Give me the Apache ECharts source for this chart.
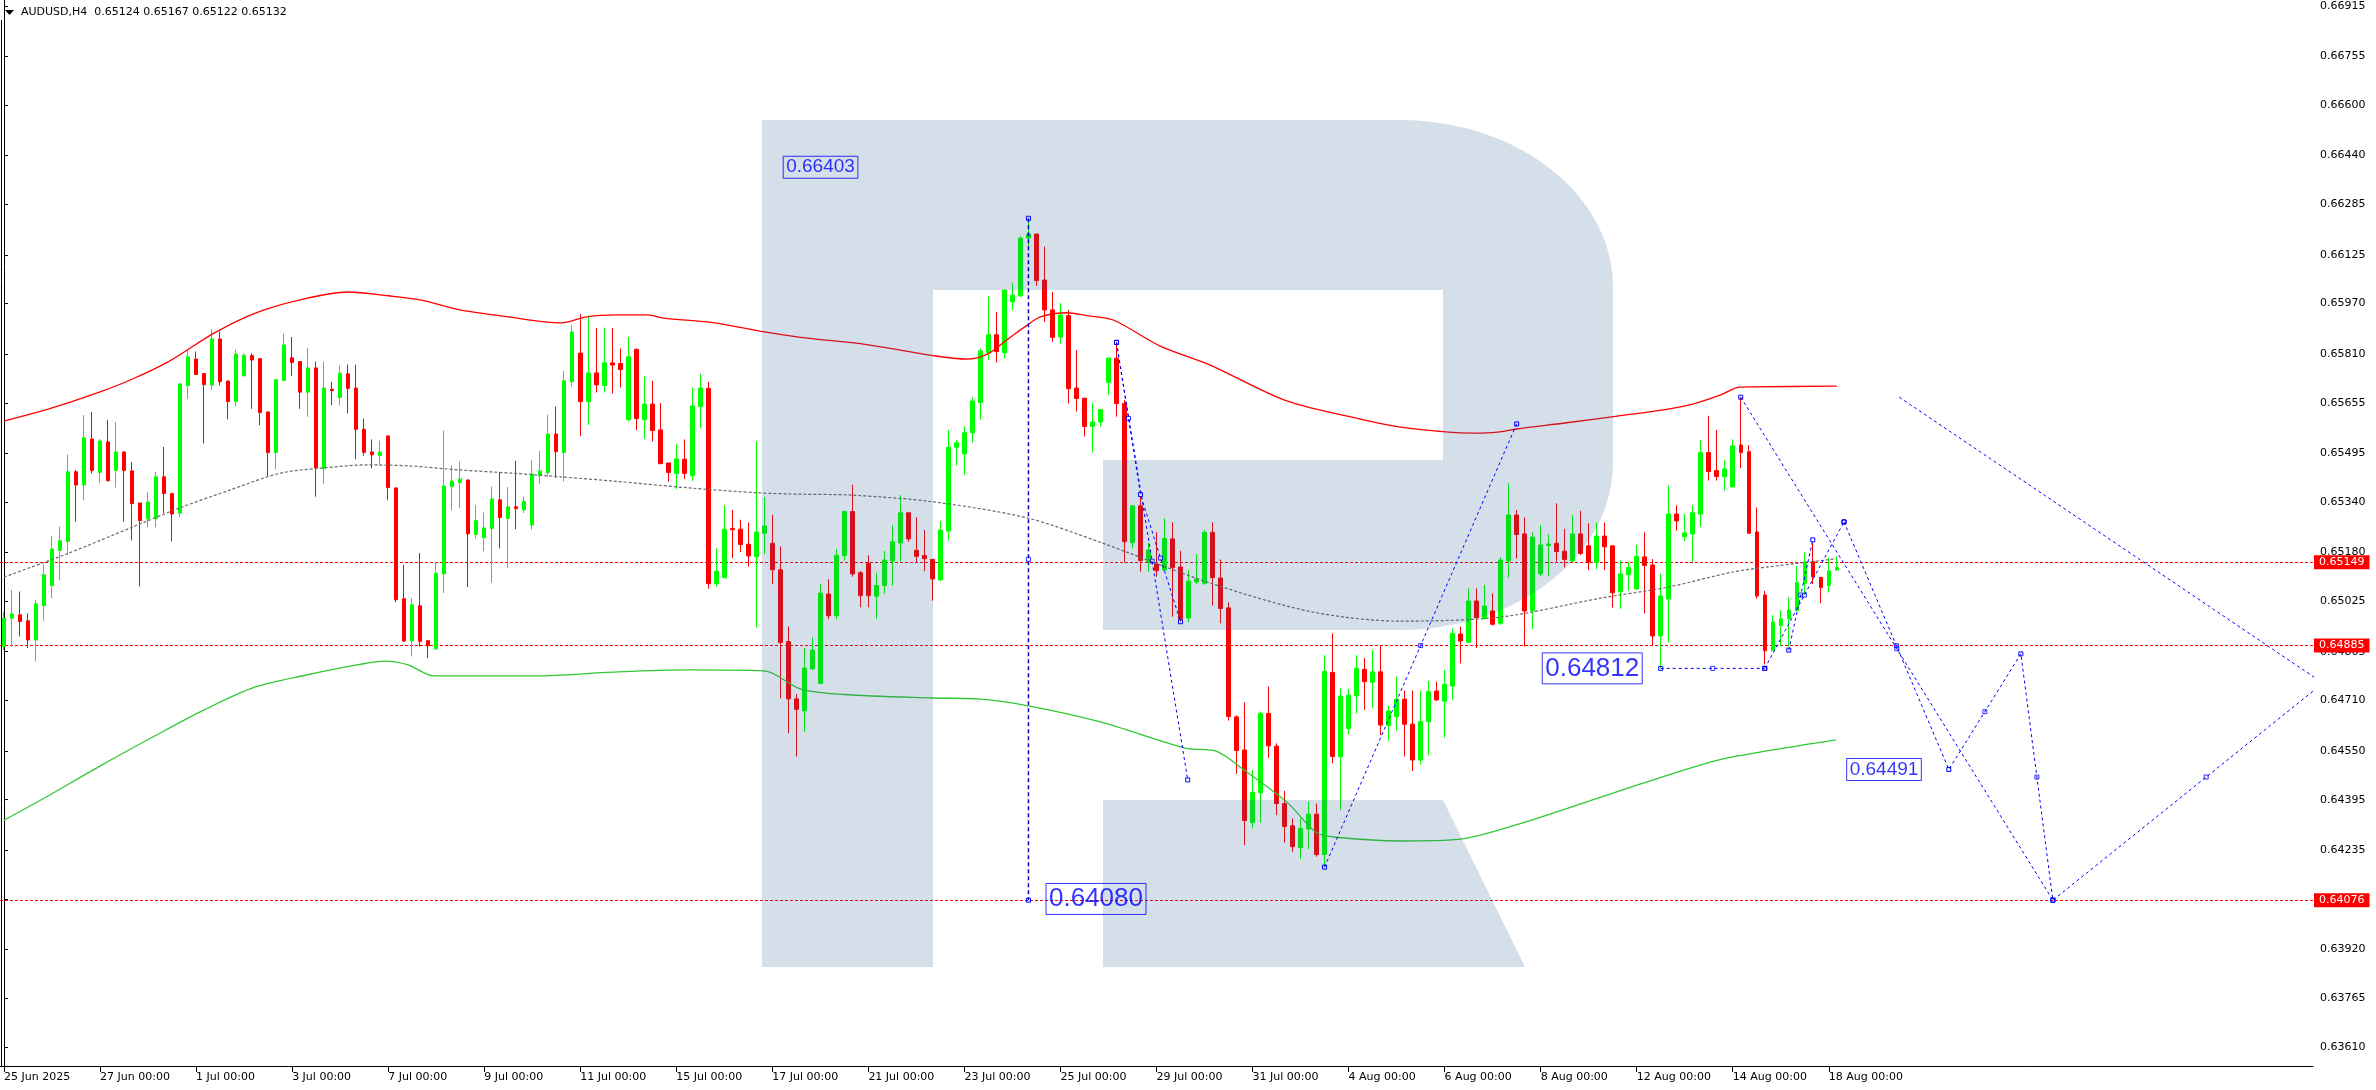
<!DOCTYPE html>
<html><head><meta charset="utf-8">
<script src="https://cdn.jsdelivr.net/npm/echarts@6/dist/echarts.min.js"></script>
<style>html,body{margin:0;padding:0;background:#fff}#c{width:2376px;height:1090px}</style>
</head><body><div id="c"></div>
<script>
// ---------------- DATA ----------------
const symbolName = 'AUDUSD,H4';
const dateLabels = ['25 Jun 2025','27 Jun 00:00','1 Jul 00:00','3 Jul 00:00','7 Jul 00:00','9 Jul 00:00','11 Jul 00:00','15 Jul 00:00','17 Jul 00:00','21 Jul 00:00','23 Jul 00:00','25 Jul 00:00','29 Jul 00:00','31 Jul 00:00','4 Aug 00:00','6 Aug 00:00','8 Aug 00:00','12 Aug 00:00','14 Aug 00:00','18 Aug 00:00'];
const yTickLabels = ['0.66915','0.66755','0.66600','0.66440','0.66285','0.66125','0.65970','0.65810','0.65655','0.65495','0.65340','0.65180','0.65025','0.64865','0.64710','0.64550','0.64395','0.64235','0.64080','0.63920','0.63765','0.63610'];

const opens = [
0.64881,0.64971,0.64982,0.64963,0.64902,0.65011,0.65075,0.65186,0.65215,0.65436,
0.65394,0.65540,0.65434,0.65531,0.65440,0.65499,0.65439,0.65337,0.65286,0.65287,
0.65420,0.65367,0.65305,0.65710,0.65794,0.65748,0.65712,0.65858,0.65724,0.65659,
0.65741,0.65805,0.65795,0.65626,0.65497,0.65726,0.65798,0.65786,0.65689,0.65766,
0.65446,0.65698,0.65672,0.65747,0.65702,0.65571,0.65499,0.65488,0.65550,0.65385,
0.65033,0.64899,0.65011,0.64900,0.64874,0.65112,0.65389,0.65402,0.65410,0.65237,
0.65227,0.65256,0.65347,0.65288,0.65325,0.65315,0.65267,0.65424,0.65433,0.65556,
0.65497,0.65722,0.65813,0.65659,0.65750,0.65710,0.65782,0.65780,0.65602,0.65825,
0.65602,0.65651,0.65569,0.65464,0.65431,0.65476,0.65424,0.65643,0.65701,0.65081,
0.65100,0.65256,0.65254,0.65206,0.65167,0.65241,0.65209,0.65125,0.64897,0.64715,
0.64677,0.64810,0.64764,0.65048,0.64979,0.65170,0.65310,0.65116,0.65145,0.65041,
0.65075,0.65153,0.65210,0.65306,0.65187,0.65170,0.65158,0.65093,0.65248,0.65514,
0.65493,0.65560,0.65656,0.65814,0.65871,0.65814,0.65976,0.65995,0.66178,0.66191,
0.66045,0.65950,0.65864,0.65932,0.65702,0.65670,0.65580,0.65594,0.65720,0.65797,
0.65653,0.65211,0.65328,0.65151,0.65143,0.65124,0.65223,0.65134,0.64972,0.65086,
0.65082,0.65244,0.65099,0.65004,0.64658,0.64553,0.64322,0.64417,0.64669,0.64565,
0.64383,0.64312,0.64243,0.64302,0.64349,0.64221,0.64799,0.64532,0.64621,0.64725,
0.64809,0.64768,0.64801,0.64631,0.64659,0.64714,0.64635,0.64521,0.64643,0.64740,
0.64708,0.64756,0.64921,0.64895,0.65026,0.64971,0.64994,0.64955,0.65153,0.65299,
0.65239,0.64994,0.65112,0.65202,0.65209,0.65184,0.65153,0.65239,0.65201,0.65148,
0.65232,0.65201,0.65055,0.65109,0.65064,0.65166,0.65140,0.64915,0.65032,0.65302,
0.65230,0.65239,0.65302,0.65497,0.65440,0.65421,0.65388,0.65521,0.65500,0.65245,
0.65045,0.64868,0.64948,0.64969,0.64995,0.65082,0.65151,0.65101,0.65075,0.65124];
const highs = [
0.64992,0.65061,0.65056,0.64987,0.65029,0.65141,0.65233,0.65262,0.65491,0.65442,
0.65616,0.65626,0.65540,0.65601,0.65594,0.65502,0.65467,0.65337,0.65372,0.65436,
0.65515,0.65370,0.65718,0.65823,0.65818,0.65750,0.65889,0.65881,0.65727,0.65823,
0.65812,0.65812,0.65798,0.65628,0.65730,0.65874,0.65864,0.65788,0.65830,0.65786,
0.65786,0.65722,0.65774,0.65777,0.65776,0.65605,0.65539,0.65535,0.65552,0.65386,
0.65141,0.65035,0.65178,0.64900,0.65148,0.65567,0.65456,0.65468,0.65412,0.65330,
0.65307,0.65389,0.65435,0.65388,0.65471,0.65357,0.65474,0.65502,0.65617,0.65643,
0.65756,0.65902,0.65937,0.65932,0.65893,0.65894,0.65893,0.65828,0.65864,0.65827,
0.65740,0.65725,0.65654,0.65466,0.65525,0.65539,0.65704,0.65747,0.65722,0.65193,
0.65330,0.65315,0.65284,0.65275,0.65533,0.65356,0.65299,0.65199,0.64945,0.64730,
0.64877,0.64911,0.65080,0.65095,0.65191,0.65312,0.65395,0.65121,0.65171,0.65116,
0.65185,0.65268,0.65362,0.65306,0.65292,0.65251,0.65158,0.65280,0.65569,0.65537,
0.65581,0.65673,0.65828,0.65994,0.65944,0.66013,0.66036,0.66184,0.66236,0.66191,
0.66151,0.66007,0.65972,0.65950,0.65822,0.65670,0.65655,0.65634,0.65800,0.65847,
0.65664,0.65328,0.65357,0.65211,0.65244,0.65288,0.65276,0.65185,0.65124,0.65175,
0.65251,0.65276,0.65158,0.65022,0.64663,0.64704,0.64489,0.64675,0.64754,0.64574,
0.64423,0.64336,0.64336,0.64389,0.64383,0.64854,0.64923,0.64749,0.64747,0.64854,
0.64845,0.64870,0.64886,0.64693,0.64786,0.64741,0.64741,0.64741,0.64772,0.64770,
0.64807,0.64939,0.64944,0.65066,0.65066,0.65077,0.65050,0.65165,0.65400,0.65315,
0.65291,0.65244,0.65267,0.65238,0.65336,0.65255,0.65299,0.65312,0.65273,0.65275,
0.65275,0.65201,0.65154,0.65150,0.65204,0.65244,0.65159,0.65112,0.65392,0.65330,
0.65302,0.65330,0.65537,0.65614,0.65569,0.65474,0.65539,0.65673,0.65521,0.65323,
0.65058,0.64981,0.64997,0.65038,0.65137,0.65180,0.65209,0.65101,0.65164,0.65167];
const lows = [
0.64871,0.64881,0.64913,0.64876,0.64834,0.64963,0.65035,0.65091,0.65172,0.65278,
0.65345,0.65431,0.65400,0.65405,0.65386,0.65278,0.65218,0.65072,0.65260,0.65260,
0.65305,0.65215,0.65294,0.65668,0.65743,0.65526,0.65696,0.65710,0.65603,0.65643,
0.65738,0.65636,0.65584,0.65421,0.65444,0.65724,0.65740,0.65636,0.65611,0.65357,
0.65397,0.65648,0.65647,0.65622,0.65476,0.65487,0.65447,0.65456,0.65346,0.65022,
0.64895,0.64850,0.64881,0.64844,0.64871,0.65051,0.65314,0.65320,0.65070,0.65225,
0.65184,0.65084,0.65193,0.65132,0.65254,0.65305,0.65252,0.65397,0.65421,0.65417,
0.65405,0.65707,0.65550,0.65585,0.65688,0.65688,0.65685,0.65704,0.65597,0.65568,
0.65541,0.65533,0.65460,0.65405,0.65381,0.65413,0.65407,0.65574,0.65065,0.65072,
0.65098,0.65162,0.65181,0.65135,0.64942,0.65175,0.65079,0.64717,0.64606,0.64532,
0.64611,0.64808,0.64762,0.64968,0.64968,0.65154,0.65103,0.65006,0.65006,0.64968,
0.65049,0.65075,0.65150,0.65214,0.65150,0.65121,0.65027,0.65089,0.65217,0.65456,
0.65427,0.65529,0.65602,0.65791,0.65783,0.65797,0.65949,0.65991,0.66150,0.66027,
0.65912,0.65849,0.65843,0.65653,0.65627,0.65548,0.65497,0.65580,0.65681,0.65611,
0.65148,0.65193,0.65119,0.65119,0.65103,0.65121,0.64976,0.64960,0.64958,0.65079,
0.65077,0.65011,0.64955,0.64646,0.64477,0.64251,0.64304,0.64322,0.64528,0.64346,
0.64259,0.64230,0.64206,0.64238,0.64214,0.64182,0.64511,0.64362,0.64602,0.64669,
0.64680,0.64687,0.64600,0.64582,0.64614,0.64532,0.64486,0.64506,0.64536,0.64708,
0.64592,0.64712,0.64828,0.64892,0.64876,0.64966,0.64948,0.64950,0.65100,0.65161,
0.64881,0.64937,0.65105,0.65105,0.65151,0.65132,0.65151,0.65172,0.65124,0.65127,
0.65124,0.65005,0.65001,0.65059,0.65064,0.64987,0.64886,0.64812,0.64894,0.65249,
0.65216,0.65151,0.65262,0.65408,0.65408,0.65376,0.65388,0.65448,0.65241,0.65033,
0.64825,0.64868,0.64883,0.64881,0.64995,0.65045,0.65080,0.65019,0.65053,0.65122];
const closes = [
0.64971,0.64985,0.64961,0.64902,0.65017,0.65109,0.65191,0.65217,0.65436,0.65394,
0.65544,0.65440,0.65534,0.65408,0.65499,0.65440,0.65335,0.65281,0.65340,0.65420,
0.65367,0.65302,0.65715,0.65801,0.65745,0.65713,0.65858,0.65722,0.65659,0.65810,
0.65806,0.65791,0.65624,0.65497,0.65728,0.65839,0.65783,0.65689,0.65766,0.65449,
0.65702,0.65694,0.65749,0.65701,0.65571,0.65498,0.65490,0.65499,0.65386,0.65030,
0.64899,0.65014,0.64898,0.64884,0.65114,0.65391,0.65407,0.65413,0.65239,0.65281,
0.65258,0.65350,0.65291,0.65325,0.65319,0.65342,0.65429,0.65439,0.65556,0.65500,
0.65725,0.65880,0.65659,0.65750,0.65712,0.65782,0.65775,0.65761,0.65801,0.65605,
0.65651,0.65567,0.65462,0.65434,0.65477,0.65431,0.65645,0.65702,0.65081,0.65120,
0.65254,0.65252,0.65205,0.65169,0.65245,0.65264,0.65125,0.64894,0.64715,0.64682,
0.64813,0.64870,0.65051,0.64979,0.65171,0.65310,0.65112,0.65043,0.65043,0.65075,
0.65156,0.65214,0.65306,0.65223,0.65168,0.65160,0.65096,0.65251,0.65514,0.65528,
0.65560,0.65661,0.65820,0.65871,0.65818,0.66013,0.65997,0.66178,0.66191,0.66043,
0.65950,0.65863,0.65934,0.65700,0.65669,0.65580,0.65594,0.65634,0.65797,0.65653,
0.65214,0.65328,0.65154,0.65188,0.65122,0.65225,0.65132,0.64969,0.65089,0.65096,
0.65244,0.65100,0.65002,0.64659,0.64551,0.64329,0.64418,0.64669,0.64566,0.64383,
0.64310,0.64246,0.64304,0.64349,0.64221,0.64802,0.64532,0.64724,0.64727,0.64812,
0.64770,0.64801,0.64632,0.64677,0.64714,0.64635,0.64521,0.64643,0.64738,0.64712,
0.64761,0.64923,0.64899,0.65026,0.64973,0.65010,0.64952,0.65156,0.65299,0.65237,
0.64994,0.65229,0.65204,0.65207,0.65183,0.65158,0.65239,0.65177,0.65150,0.65232,
0.65198,0.65052,0.65112,0.65132,0.65167,0.65139,0.64915,0.65042,0.65302,0.65280,
0.65242,0.65306,0.65497,0.65437,0.65421,0.65445,0.65518,0.65497,0.65241,0.65042,
0.64868,0.64959,0.64969,0.64997,0.65084,0.65150,0.65103,0.65069,0.65121,0.65132];

// indicator lines: [bar index, price]
const upperBand = [[0,0.65597],[6,0.65639],[12,0.65690],[16,0.65730],[20.5,0.65785],[26.3,0.65877],[31.4,0.65940],[37,0.65982],[43,0.66007],[48,0.65995],[52,0.65982],[57,0.65950],[63,0.65928],[69.6,0.65909],[72.8,0.65928],[76.6,0.65934],[80.5,0.65934],[82.4,0.65924],[88.8,0.65909],[95,0.65880],[99.5,0.65863],[107.8,0.65840],[116.1,0.65805],[120.3,0.65794],[122.8,0.65809],[125.3,0.65855],[127.8,0.65901],[129.5,0.65928],[132.8,0.65941],[135.3,0.65932],[138.6,0.65918],[144.4,0.65836],[150.7,0.65775],[160.3,0.65661],[169.9,0.65601],[174.5,0.65578],[180.5,0.65562],[183.6,0.65559],[186.6,0.65562],[189,0.65572],[195,0.65591],[201.6,0.65613],[207.9,0.65635],[211,0.65651],[214.5,0.65680],[216.8,0.65705],[218.5,0.65706],[229,0.65708]];
const middleBand = [[0,0.65102],[7.8,0.65175],[16.1,0.65261],[21.9,0.65321],[28.2,0.65378],[34.6,0.65432],[41,0.65451],[45.4,0.65458],[50.5,0.65455],[56.9,0.65442],[63.3,0.65432],[69.6,0.65420],[76,0.65407],[85.6,0.65385],[94.5,0.65369],[99.5,0.65365],[106,0.65362],[116,0.65341],[127.8,0.65290],[137,0.65212],[150.7,0.65083],[163.5,0.64991],[174.5,0.64962],[187,0.64975],[199.5,0.65035],[207.9,0.65070],[216,0.65118],[220.4,0.65134],[228.6,0.65159]];
const lowerBand = [[0,0.64330],[4.6,0.64394],[12.2,0.64505],[18.6,0.64594],[25,0.64680],[31.4,0.64753],[37.8,0.64791],[44.1,0.64823],[47.6,0.64835],[50.5,0.64823],[53.7,0.64788],[60,0.64788],[66.5,0.64788],[76,0.64800],[85.6,0.64807],[95,0.64804],[99.5,0.64747],[104.9,0.64729],[116,0.64718],[121.6,0.64715],[127.8,0.64694],[137,0.64642],[147.6,0.64559],[151.6,0.64548],[154.9,0.64490],[160.4,0.64385],[164,0.64290],[166.8,0.64275],[174.5,0.64264],[181.7,0.64269],[188.9,0.64315],[203.3,0.64435],[214,0.64520],[221,0.64553],[228.9,0.64585]];

// horizontal levels (red dashed) and forecast drawings
const levelLines = [0.65149, 0.64885, 0.64076];
const forecastPaths = [
  [[128,0.66241],[128,0.64076]],
  [[139,0.65847],[142,0.65364],[147,0.64960]],
  [[139,0.65847],[147.9,0.64458]],
  [[165,0.64181],[189,0.65588]],
  [[207,0.64812],[220,0.64812]],
  [[220,0.64812],[229.9,0.65277]],
  [[223,0.64870],[226,0.65220]],
  [[217,0.65673],[256,0.64076]],
  [[229.9,0.65277],[243,0.64491],[252,0.64858],[256,0.64076],[294.3,0.64858]]
];
const guideLine = [[236.8,0.65673],[295,0.64675]];
const labelBars = [108, 144, 207, 243];
const labelValues = [0.66403, 0.64080, 0.64812, 0.64491];

// ---------------- CHART ----------------
const SLOTS = 289;
const cats = [];
for (let i = 0; i < SLOTS; i++) cats.push(i % 12 === 0 && dateLabels[i / 12] ? dateLabels[i / 12] : '');
const candles = opens.map((o, i) => [o, closes[i], lows[i], highs[i]]);
const last = opens.length - 1;
const headerText = symbolName + '  ' + [opens[last], highs[last], lows[last], closes[last]].map(v => v.toFixed(5)).join(' ');
const tickVals = yTickLabels.map(Number);

// watermark geometry (decoration)
function arc(cx, cy, rx, ry, a0, a1, n) {
  const p = [];
  for (let k = 0; k <= n; k++) { const a = (a0 + (a1 - a0) * k / n) * Math.PI / 180; p.push([cx + rx * Math.cos(a), cy + ry * Math.sin(a)]); }
  return p;
}
const wmOuter = [[762,120],[1400,120]].concat(arc(1400,287,213,167,-90,0,24), [[1613,463]], arc(1400,463,213,167,0,90,24),
  [[1400,630],[1103,630],[1103,460],[1443,460],[1443,290],[933,290],[933,967],[762,967]]);
const wmLeg = [[1103,800],[1443,800],[1525,967],[1103,967]];
const WM = 'rgba(40,91,142,0.195)';

const blue = '#0000ff';
const handleStyle = { color: 'rgba(255,255,255,0)', borderColor: blue, borderWidth: 1 };
const series = [];
series.push({
  type: 'candlestick', xAxisIndex: 0, yAxisIndex: 0, data: candles, barWidth: 4, z: 2,
  itemStyle: { color: '#00ff00', color0: '#ff0000', borderColor: '#00ff00', borderColor0: '#ff0000', borderWidth: 1 },
  markLine: {
    silent: true, symbol: ['none', 'none'], precision: 5, animation: false, z: 2,
    lineStyle: { color: '#ff0000', type: [3, 2], width: 1 },
    label: { show: true, position: 'end', distance: 1, formatter: p => (+p.value).toFixed(5),
      backgroundColor: '#ff0000', color: '#fff', fontSize: 11, fontFamily: 'DejaVu Sans', lineHeight: 12, padding: [1, 5, 1, 5] },
    data: [{ yAxis: closes[last], lineStyle: { opacity: 0 }, label: { backgroundColor: '#000', color: '#fff' } }]
      .concat(levelLines.map(v => ({ yAxis: v })))
  }
});
series.push({ type: 'line', xAxisIndex: 1, yAxisIndex: 0, data: upperBand, showSymbol: false, smooth: 0.3, z: 3,
  lineStyle: { color: '#ff0000', width: 1.3 } });
series.push({ type: 'line', xAxisIndex: 1, yAxisIndex: 0, data: middleBand, showSymbol: false, smooth: 0.3, z: 3,
  lineStyle: { color: '#6a6a6a', width: 1.2, type: [3, 2] } });
series.push({ type: 'line', xAxisIndex: 1, yAxisIndex: 0, data: lowerBand, showSymbol: false, smooth: 0.3, z: 3,
  lineStyle: { color: '#32c832', width: 1.3 } });
forecastPaths.forEach((path, k) => {
  series.push({ type: 'line', xAxisIndex: 1, yAxisIndex: 0, data: path, z: 10, clip: true,
    symbol: 'rect', symbolSize: 4, showAllSymbol: true,
    lineStyle: { color: k === 0 ? '#0000c8' : blue, width: k === 0 ? 1.5 : 1, type: k === 0 ? [4, 3] : [3, 3] },
    itemStyle: handleStyle });
});
series.push({ type: 'line', xAxisIndex: 1, yAxisIndex: 0, data: guideLine, z: 10, clip: true, showSymbol: false,
  lineStyle: { color: blue, width: 1, type: [3, 3] } });
// handles at segment midpoints
const mids = [];
forecastPaths.forEach(p => { for (let i = 1; i < p.length; i++) mids.push([(p[i-1][0] + p[i][0]) / 2, (p[i-1][1] + p[i][1]) / 2]); });
series.push({ type: 'scatter', xAxisIndex: 1, yAxisIndex: 0, data: mids, z: 10, clip: true,
  symbol: 'rect', symbolSize: 4, itemStyle: handleStyle });
// price labels
const lblSize = [19, 26, 26, 19], lblGap = [10, 10, 18, 27];
series.push({ type: 'scatter', xAxisIndex: 1, yAxisIndex: 0, z: 11, symbolSize: 1,
  itemStyle: { color: 'rgba(0,0,0,0)' },
  data: labelBars.map((b, i) => ({ value: [b, labelValues[i]],
    label: { show: true, position: 'left', distance: lblGap[i], formatter: labelValues[i].toFixed(5),
      fontSize: lblSize[i], lineHeight: lblSize[i] + 1, padding: lblSize[i] > 20 ? [2, 3, 2, 3] : [1, 3, 1, 3],
      color: blue, fontFamily: 'Liberation Sans', borderColor: blue, borderWidth: 1 } }))
});

const option = {
  animation: false,
  backgroundColor: '#ffffff',
  grid: { left: 0, right: 63, top: 0, bottom: 24, containLabel: false },
  xAxis: [{
    type: 'category', data: cats, boundaryGap: true, gridIndex: 0,
    axisLine: { show: true, lineStyle: { color: '#000', width: 1 } },
    axisTick: { show: true, alignWithLabel: true, length: 6, interval: (i, v) => v !== '', lineStyle: { color: '#000' } },
    axisLabel: { show: true, interval: (i, v) => v !== '', align: 'left', margin: 6, color: '#000', fontSize: 11, fontFamily: 'DejaVu Sans' },
    splitLine: { show: false }
  }, {
    type: 'value', min: -0.5, max: SLOTS - 0.5, show: false, gridIndex: 0
  }],
  yAxis: [{
    type: 'value', position: 'right', min: 0.635496, max: 0.669340,
    axisLine: { show: true, lineStyle: { color: '#000', width: 1 } },
    axisTick: { show: true, length: 4, customValues: tickVals, lineStyle: { color: '#000' } },
    axisLabel: { show: true, customValues: tickVals, margin: 7, color: '#000', fontSize: 11, fontFamily: 'DejaVu Sans',
      formatter: v => { const k = tickVals.indexOf(v); return k >= 0 ? yTickLabels[k] : v.toFixed(5); } },
    splitLine: { show: false }
  }],
  graphic: [
    { type: 'polygon', z: 5, silent: true, shape: { points: wmOuter }, style: { fill: WM } },
    { type: 'polygon', z: 5, silent: true, shape: { points: wmLeg }, style: { fill: WM } },
    { type: 'line', z: 1, shape: { x1: 1.5, y1: 20, x2: 1.5, y2: 1066 }, style: { stroke: '#000', lineWidth: 1 } },
    { type: 'polygon', z: 20, shape: { points: [[5,10],[14,10],[9.5,15]] }, style: { fill: '#000' } },
    { type: 'text', z: 20, x: 21, y: 7, style: { text: headerText, fill: '#000', font: '11px "DejaVu Sans"' } }
  ],
  series: series
};
const chart = echarts.init(document.getElementById('c'), null, { renderer: 'canvas', width: 2376, height: 1090 });
chart.setOption(option);
</script>
</body></html>
